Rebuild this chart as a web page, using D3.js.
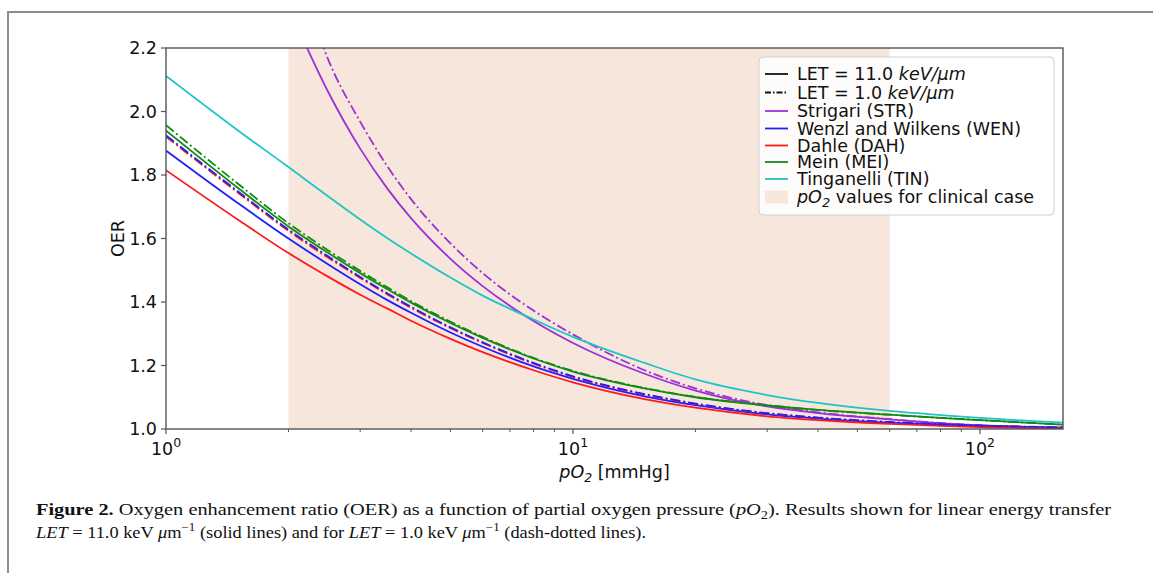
<!DOCTYPE html>
<html>
<head>
<meta charset="utf-8">
<script src="https://cdn.jsdelivr.net/npm/d3@7"></script>
<style>
  body { margin: 0; background: #fff; }
  svg { display: block; }
</style>
</head>
<body>
<div id="chart"></div>
<script>
const width = 1153;
const height = 573;
const margin = { left: 166, right: 1063, top: 48, bottom: 429 };

// pO2 sample points (mmHg) shared by all curves
const pO2 = [1, 1.5, 2, 2.5, 3, 3.5, 4, 5, 6, 8, 10, 15, 20, 30, 40, 60, 80, 100, 160];

// OER, LET = 11 keV/um (solid) and LET = 1 keV/um (dash-dot)
const strLet11 = [null, null, 2.33, 2.063, 1.883, 1.757, 1.664, 1.536, 1.45, 1.34, 1.271, 1.174, 1.121, 1.071, 1.05, 1.03, 1.018, 1.011, 1.003];
const strLet1  = [null, null, 2.55, 2.166, 1.968, 1.827, 1.724, 1.585, 1.491, 1.373, 1.298, 1.185, 1.128, 1.075, 1.052, 1.031, 1.019, 1.012, 1.004];
const wenLet11 = [1.877, 1.712, 1.600, 1.519, 1.456, 1.406, 1.366, 1.304, 1.259, 1.197, 1.158, 1.103, 1.075, 1.046, 1.033, 1.020, 1.014, 1.010, 1.004];
const wenLet1  = [1.925, 1.749, 1.628, 1.544, 1.479, 1.427, 1.385, 1.320, 1.273, 1.208, 1.166, 1.110, 1.080, 1.050, 1.036, 1.022, 1.015, 1.011, 1.005];
const dahLet11 = [1.815, 1.66, 1.554, 1.48, 1.423, 1.379, 1.341, 1.284, 1.242, 1.185, 1.147, 1.094, 1.067, 1.040, 1.028, 1.016, 1.010, 1.006, 1.002];
const dahLet1  = [1.921, 1.745, 1.624, 1.540, 1.476, 1.424, 1.382, 1.318, 1.271, 1.206, 1.164, 1.108, 1.079, 1.049, 1.035, 1.021, 1.014, 1.010, 1.005];
const meiLet11 = [1.94, 1.760, 1.638, 1.555, 1.491, 1.440, 1.398, 1.334, 1.287, 1.222, 1.181, 1.128, 1.100, 1.074, 1.060, 1.045, 1.035, 1.028, 1.014];
const meiLet1  = [1.957, 1.773, 1.648, 1.563, 1.498, 1.446, 1.403, 1.338, 1.290, 1.224, 1.183, 1.129, 1.101, 1.075, 1.060, 1.045, 1.035, 1.028, 1.014];
const tinLet11 = [2.112, 1.941, 1.825, 1.733, 1.660, 1.601, 1.553, 1.477, 1.42, 1.345, 1.29, 1.208, 1.156, 1.107, 1.082, 1.057, 1.044, 1.035, 1.02];

const clinicalRange = [2, 60];
const xDomain = [1, 160];
const yDomain = [1.0, 2.2];
const yTicks = [1.0, 1.2, 1.4, 1.6, 1.8, 2.0, 2.2];
const xMajorTicks = [1, 10, 100];
const xMinorTicks = [2, 3, 4, 5, 6, 7, 8, 9, 20, 30, 40, 50, 60, 70, 80, 90];

const colors = {
    STR: "#9b30d9",
    WEN: "#1f1fff",
    DAH: "#ff1a1a",
    MEI: "#138a13",
    TIN: "#1fc4c4",
    shade: "#f7e6dc"
};

const dashDot = "10,3,2,3";

const series = [
    { name: "STR", values: strLet11, dash: null },
    { name: "STR", values: strLet1, dash: dashDot },
    { name: "WEN", values: wenLet11, dash: null },
    { name: "DAH", values: dahLet11, dash: null },
    { name: "DAH", values: dahLet1, dash: dashDot },
    { name: "WEN", values: wenLet1, dash: dashDot },
    { name: "MEI", values: meiLet11, dash: null },
    { name: "MEI", values: meiLet1, dash: dashDot },
    { name: "TIN", values: tinLet11, dash: null }
];

const legendItems = [
    { label: "LET = 11.0 ", math: "keV/μm", color: "#111", dash: null },
    { label: "LET = 1.0 ", math: "keV/μm", color: "#111", dash: "6,2,1.5,2" },
    { label: "Strigari (STR)", color: colors.STR },
    { label: "Wenzl and Wilkens (WEN)", color: colors.WEN },
    { label: "Dahle (DAH)", color: colors.DAH },
    { label: "Mein (MEI)", color: colors.MEI },
    { label: "Tinganelli (TIN)", color: colors.TIN },
    { label: " values for clinical case", patch: true }
];

const font = "'DejaVu Sans', sans-serif";

const x = d3.scaleLog().domain(xDomain).range([margin.left, margin.right]);
const y = d3.scaleLinear().domain(yDomain).range([margin.bottom, margin.top]);

const svg = d3.select("#chart").append("svg")
    .attr("width", width)
    .attr("height", height);

// figure frame (only top and left edges are visible in the crop)
svg.append("path")
    .attr("d", `M8,${height} L8,12 L${width},12`)
    .attr("fill", "none")
    .attr("stroke", "#8c8c8c")
    .attr("stroke-width", 2);

svg.append("defs").append("clipPath").attr("id", "plot-clip")
    .append("rect")
    .attr("x", margin.left).attr("y", margin.top)
    .attr("width", margin.right - margin.left)
    .attr("height", margin.bottom - margin.top);

svg.append("rect")
    .attr("x", x(clinicalRange[0]))
    .attr("y", margin.top)
    .attr("width", x(clinicalRange[1]) - x(clinicalRange[0]))
    .attr("height", margin.bottom - margin.top)
    .attr("fill", colors.shade);

const line = d3.line()
    .defined(d => d.v != null)
    .x(d => x(d.p))
    .y(d => y(d.v))
    .curve(d3.curveMonotoneX);

const lines = svg.append("g").attr("clip-path", "url(#plot-clip)");
lines.selectAll("path")
    .data(series)
    .join("path")
    .attr("d", s => line(pO2.map((p, i) => ({ p: p, v: s.values[i] }))))
    .attr("fill", "none")
    .attr("stroke", s => colors[s.name])
    .attr("stroke-width", 1.8)
    .attr("stroke-dasharray", s => s.dash);

// axes
const axisColor = "#555";
svg.append("rect")
    .attr("x", margin.left).attr("y", margin.top)
    .attr("width", margin.right - margin.left)
    .attr("height", margin.bottom - margin.top)
    .attr("fill", "none")
    .attr("stroke", axisColor)
    .attr("stroke-width", 1.4);

const yAxis = svg.append("g");
yAxis.selectAll("line")
    .data(yTicks)
    .join("line")
    .attr("x1", margin.left - 5).attr("x2", margin.left)
    .attr("y1", d => y(d)).attr("y2", d => y(d))
    .attr("stroke", axisColor).attr("stroke-width", 1.2);
yAxis.selectAll("text")
    .data(yTicks)
    .join("text")
    .attr("x", margin.left - 9)
    .attr("y", d => y(d))
    .attr("dy", "0.36em")
    .attr("text-anchor", "end")
    .style("font-family", font)
    .style("font-size", "17.5px")
    .style("fill", "#111")
    .text(d => d.toFixed(1));

const xAxis = svg.append("g");
xAxis.selectAll("line.major")
    .data(xMajorTicks)
    .join("line")
    .attr("class", "major")
    .attr("x1", d => x(d)).attr("x2", d => x(d))
    .attr("y1", margin.bottom).attr("y2", margin.bottom + 5)
    .attr("stroke", axisColor).attr("stroke-width", 1.2);
xAxis.selectAll("line.minor")
    .data(xMinorTicks.filter(d => d <= xDomain[1]))
    .join("line")
    .attr("class", "minor")
    .attr("x1", d => x(d)).attr("x2", d => x(d))
    .attr("y1", margin.bottom).attr("y2", margin.bottom + 3)
    .attr("stroke", axisColor).attr("stroke-width", 1);
const xLabels = xAxis.selectAll("text")
    .data(xMajorTicks)
    .join("text")
    .attr("x", d => x(d))
    .attr("y", margin.bottom + 26)
    .attr("text-anchor", "middle")
    .style("font-family", font)
    .style("font-size", "17.5px")
    .style("fill", "#111");
xLabels.append("tspan").text("10");
xLabels.append("tspan")
    .attr("dy", -8)
    .style("font-size", "12.5px")
    .text(d => Math.round(Math.log10(d)));

// axis titles
const xTitle = svg.append("text")
    .attr("x", (margin.left + margin.right) / 2)
    .attr("y", margin.bottom + 49)
    .attr("text-anchor", "middle")
    .style("font-family", font)
    .style("font-size", "17.5px")
    .style("fill", "#111");
xTitle.append("tspan").style("font-style", "italic").text("pO");
xTitle.append("tspan").attr("dy", 4).style("font-style", "italic").style("font-size", "12.5px").text("2");
xTitle.append("tspan").attr("dy", -4).text(" [mmHg]");

svg.append("text")
    .attr("transform", `translate(124, ${(margin.top + margin.bottom) / 2}) rotate(-90)`)
    .attr("text-anchor", "middle")
    .style("font-family", font)
    .style("font-size", "17.5px")
    .style("fill", "#111")
    .text("OER");

// legend
const legendX = 759, legendY = 57, legendW = 295, legendH = 158;
const rowY = [74, 92.5, 111, 128.5, 145.5, 162, 179, 197];
const legend = svg.append("g");
legend.append("rect")
    .attr("x", legendX).attr("y", legendY)
    .attr("width", legendW).attr("height", legendH)
    .attr("rx", 4)
    .attr("fill", "#fff").attr("fill-opacity", 0.85)
    .attr("stroke", "#d0d0d0").attr("stroke-width", 1);

const rows = legend.selectAll("g.row")
    .data(legendItems)
    .join("g")
    .attr("class", "row")
    .attr("transform", (d, i) => `translate(${legendX + 6}, ${rowY[i]})`);

rows.filter(d => !d.patch).append("line")
    .attr("x1", 0).attr("x2", 23)
    .attr("stroke", d => d.color)
    .attr("stroke-width", 1.8)
    .attr("stroke-dasharray", d => d.dash);
rows.filter(d => d.patch).append("rect")
    .attr("x", 0).attr("y", -6.5)
    .attr("width", 23).attr("height", 13)
    .attr("fill", colors.shade);

const rowText = rows.append("text")
    .attr("x", 32)
    .attr("dy", "0.36em")
    .style("font-family", font)
    .style("font-size", "17.5px")
    .style("fill", "#111");
rowText.each(function(d) {
    const t = d3.select(this);
    if (d.patch) {
        t.append("tspan").style("font-style", "italic").text("pO");
        t.append("tspan").attr("dy", 4).style("font-style", "italic").style("font-size", "13px").text("2");
        t.append("tspan").attr("dy", -4).text(d.label);
    } else {
        t.append("tspan").text(d.label);
        if (d.math) t.append("tspan").style("font-style", "italic").text(d.math);
    }
});

// caption
const serif = "'Liberation Serif', 'DejaVu Serif', serif";
const cap1 = svg.append("text")
    .attr("x", 36).attr("y", 515)
    .style("font-family", serif)
    .style("font-size", "17px")
    .style("fill", "#111")
    .attr("textLength", 1075)
    .attr("lengthAdjust", "spacingAndGlyphs");
cap1.append("tspan").style("font-weight", "bold").text("Figure 2. ");
cap1.append("tspan").text("Oxygen enhancement ratio (OER) as a function of partial oxygen pressure (");
cap1.append("tspan").style("font-style", "italic").text("pO");
cap1.append("tspan").attr("dy", 4).style("font-size", "12px").text("2");
cap1.append("tspan").attr("dy", -4).text("). Results shown for linear energy transfer");

const cap2 = svg.append("text")
    .attr("x", 36).attr("y", 538)
    .style("font-family", serif)
    .style("font-size", "17px")
    .style("fill", "#111")
    .attr("textLength", 610)
    .attr("lengthAdjust", "spacingAndGlyphs");
cap2.append("tspan").style("font-style", "italic").text("LET");
cap2.append("tspan").text(" = 11.0 keV ");
cap2.append("tspan").style("font-style", "italic").text("μ");
cap2.append("tspan").text("m");
cap2.append("tspan").attr("dy", -7).style("font-size", "12px").text("−1");
cap2.append("tspan").attr("dy", 7).text(" (solid lines) and for ");
cap2.append("tspan").style("font-style", "italic").text("LET");
cap2.append("tspan").text(" = 1.0 keV ");
cap2.append("tspan").style("font-style", "italic").text("μ");
cap2.append("tspan").text("m");
cap2.append("tspan").attr("dy", -7).style("font-size", "12px").text("−1");
cap2.append("tspan").attr("dy", 7).text(" (dash-dotted lines).");
</script>
</body>
</html>
